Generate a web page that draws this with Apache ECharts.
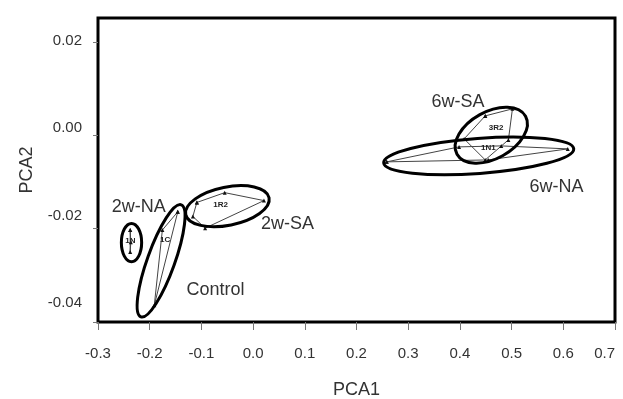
<!DOCTYPE html>
<html lang="en">
<head>
<meta charset="UTF-8">
<title>PCA</title>
<style>
  html,body{margin:0;padding:0;background:#fff;}
  #main{width:623px;height:399px;}
</style>
</head>
<body>
<div id="main"></div>
<script src="https://cdn.jsdelivr.net/npm/echarts@6/dist/echarts.min.js"></script>
<script>
// group names
const groups = ['2w-NA', 'Control', '2w-SA', '6w-SA', '6w-NA'];
// ellipse centre, tip of the major axis (PCA1, PCA2) and minor/major ratio
const ellipseCenter = [[-0.2352, -0.0230], [-0.178, -0.0269], [-0.0497, -0.0152], [0.4607, 0.0000], [0.4364, -0.00443]];
const ellipseTip = [[-0.2352, -0.0189], [-0.139, -0.0149], [0.0309, -0.0134], [0.527, 0.00406], [0.6202, -0.00293]];
const ellipseRatio = [0.53, 0.23, 0.45, 0.6, 0.184];
// sample scores per group (hull vertices)
const pts2wNA = [[-0.2378, -0.0203], [-0.2365, -0.0229], [-0.2378, -0.0250]];
const ptsControl = [[-0.1457, -0.0164], [-0.1755, -0.0203], [-0.1911, -0.0364]];
const pts2wSA = [[-0.1088, -0.0144], [-0.0549, -0.0123], [0.021, -0.0140], [-0.0928, -0.0199], [-0.1165, -0.0174]];
const pts6wSA = [[0.449, 0.00414], [0.5016, 0.00564], [0.4938, -0.0010], [0.449, -0.00529], [0.4082, -0.00079]];
const pts6wNA = [[0.2584, -0.00571], [0.3984, -0.0025], [0.480, -0.00229], [0.6086, -0.00293], [0.4549, -0.00529]];
// sample tags inside the hulls
const tagText = ['1N', '1C', '1R2', '3R2', '1N1'];
const tagAt = [[-0.2372, -0.0226], [-0.170, -0.0225], [-0.063, -0.0150], [0.470, 0.0016], [0.455, -0.0026]];
// group label anchors
const labelAt = [[-0.2210, -0.0154], [-0.0726, -0.0332], [0.0665, -0.0190], [0.3963, 0.0072], [0.5868, -0.0111]];
// y ticks and their labels (printed slightly off the tick marks in the original)
const yTicks = [-0.04, -0.02, 0.00, 0.02];

const font = "'Liberation Sans', Arial, sans-serif";
const chart = echarts.init(document.getElementById('main'));

function closed(p) { return p.concat([p[0]]); }
const hulls = [pts2wNA, ptsControl, pts2wSA, pts6wSA, pts6wNA];

const series = [];
hulls.forEach(function (p, i) {
  series.push({
    name: groups[i],
    type: 'line',
    data: closed(p),
    symbol: 'triangle',
    symbolSize: 4,
    itemStyle: { color: '#111' },
    lineStyle: { color: '#444', width: 1 },
    silent: true,
    z: 3
  });
});
series.push({
  type: 'custom',
  data: ellipseCenter.map(function (c, i) {
    return [c[0], c[1], ellipseTip[i][0], ellipseTip[i][1], ellipseRatio[i]];
  }),
  renderItem: function (params, api) {
    const c = api.coord([api.value(0), api.value(1)]);
    const t = api.coord([api.value(2), api.value(3)]);
    const dx = t[0] - c[0], dy = t[1] - c[1];
    const a = Math.sqrt(dx * dx + dy * dy);
    return {
      type: 'ellipse',
      x: c[0], y: c[1],
      rotation: -Math.atan2(dy, dx),
      shape: { cx: 0, cy: 0, rx: a, ry: a * api.value(4) },
      style: { fill: null, stroke: '#000', lineWidth: 3 }
    };
  },
  silent: true,
  z: 4
});
series.push({
  type: 'custom',
  data: tagAt.map(function (p, i) { return [p[0], p[1], tagText[i]]; }),
  renderItem: function (params, api) {
    const c = api.coord([api.value(0), api.value(1)]);
    return {
      type: 'text', x: c[0], y: c[1],
      style: { text: tagText[params.dataIndex], fontSize: 8, fontWeight: 'bold', fontFamily: font,
        fill: '#222', align: 'center', verticalAlign: 'middle' }
    };
  },
  silent: true,
  z: 5
});
series.push({
  type: 'custom',
  data: labelAt.map(function (p, i) { return [p[0], p[1], groups[i]]; }),
  renderItem: function (params, api) {
    const c = api.coord([api.value(0), api.value(1)]);
    return {
      type: 'text', x: c[0], y: c[1],
      style: { text: groups[params.dataIndex], fontSize: 18, fontFamily: font,
        fill: '#333', align: 'center', verticalAlign: 'middle' }
    };
  },
  silent: true,
  z: 6
});

const fmt2 = function (v) { return (Math.abs(v) < 1e-9 ? 0 : v).toFixed(2); };

const option = {
  animation: false,
  backgroundColor: '#fff',
  grid: { left: 98, right: 8, top: 18, bottom: 77, show: true, borderColor: '#000', borderWidth: 3,
    containLabel: false, outerBoundsMode: 'none' },
  xAxis: {
    type: 'value', min: -0.3, max: 0.7, interval: 0.1,
    name: 'PCA1', nameLocation: 'middle', nameGap: 59,
    nameTextStyle: { fontSize: 18, color: '#333', fontFamily: font },
    splitLine: { show: false },
    axisLine: { show: false, onZero: false },
    axisTick: { show: true, length: 8, lineStyle: { color: '#777' } },
    axisLabel: {
      color: '#333', fontSize: 15, fontFamily: font, margin: 24, alignMaxLabel: 'right',
      formatter: function (v) { return (Math.abs(v) < 1e-9 ? 0 : v).toFixed(1); }
    }
  },
  yAxis: [{
    type: 'value', min: -0.04, max: 0.0251, interval: 0.02,
    name: 'PCA2', nameLocation: 'middle', nameGap: 62,
    nameTextStyle: { fontSize: 18, color: '#333', fontFamily: font },
    splitLine: { show: false },
    axisLine: { show: false, onZero: false },
    axisTick: { show: true, length: 5, customValues: yTicks, lineStyle: { color: '#777' } },
    axisLabel: { show: false }
  }, {
    // label-only axis: the printed labels sit a little above the ticks
    type: 'value', position: 'left', min: -0.04435, max: 0.02519,
    splitLine: { show: false },
    axisLine: { show: false, onZero: false },
    axisTick: { show: false },
    axisLabel: {
      color: '#333', fontSize: 15, fontFamily: font, margin: 16,
      customValues: yTicks, formatter: fmt2
    }
  }],
  series: series
};
chart.setOption(option);
</script>
</body>
</html>
